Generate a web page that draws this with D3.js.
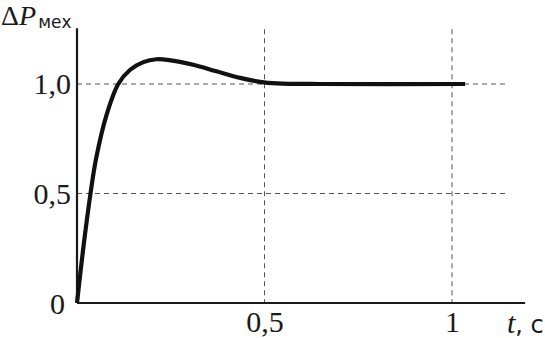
<!DOCTYPE html>
<html>
<head>
<meta charset="utf-8">
<script src="https://cdn.jsdelivr.net/npm/d3@7"></script>
<style>
  body { margin: 0; background: #fff; }
  text { fill: #1a1a1a; }
</style>
</head>
<body>
<div id="chart"></div>
<script>
// transient response of mechanical power after a step
const timeValues = [0, 0.016, 0.036, 0.051, 0.079, 0.11, 0.141, 0.177, 0.212, 0.25, 0.31, 0.372, 0.435, 0.488, 0.533, 0.65, 1.035];
const powerValues = [0, 0.24, 0.5, 0.66, 0.86, 1.0, 1.064, 1.10, 1.113, 1.108, 1.088, 1.058, 1.028, 1.010, 1.003, 1.0, 1.0];
const xTicks = [0.5, 1];
const xTickLabels = ["0,5", "1"];
const yTicks = [0, 0.5, 1];
const yTickLabels = ["0", "0,5", "1,0"];

const W = 545, H = 338;
const svg = d3.select("#chart").append("svg")
  .attr("width", W)
  .attr("height", H);

const x = d3.scaleLinear().domain([0, 1]).range([77, 452]);
const y = d3.scaleLinear().domain([0, 1]).range([303, 84]);

const serif = "'Liberation Serif', 'DejaVu Serif', serif";

// dashed grid
svg.selectAll(".hgrid")
  .data([0.5, 1])
  .enter()
  .append("line")
  .attr("x1", x(0))
  .attr("x2", x(1.15))
  .attr("y1", d => y(d))
  .attr("y2", d => y(d))
  .attr("stroke", "#555")
  .attr("stroke-width", 1)
  .attr("stroke-dasharray", "5,4");

svg.selectAll(".vgrid")
  .data(xTicks)
  .enter()
  .append("line")
  .attr("x1", d => x(d))
  .attr("x2", d => x(d))
  .attr("y1", y(1.25))
  .attr("y2", y(0))
  .attr("stroke", "#555")
  .attr("stroke-width", 1)
  .attr("stroke-dasharray", "5,4");

// axes lines
svg.append("line")
  .attr("x1", x(0)).attr("x2", x(0))
  .attr("y1", y(1.255)).attr("y2", y(0))
  .attr("stroke", "#1a1a1a").attr("stroke-width", 2.2);
svg.append("line")
  .attr("x1", x(0)).attr("x2", x(1.195))
  .attr("y1", y(0)).attr("y2", y(0))
  .attr("stroke", "#1a1a1a").attr("stroke-width", 2.2);

// tick labels
const yAxis = svg.append("g")
  .attr("transform", `translate(${x(0) - 6},0)`)
  .call(d3.axisLeft(y).tickValues(yTicks).tickSize(0).tickPadding(0)
    .tickFormat((d, i) => yTickLabels[i]));
yAxis.select(".domain").remove();
yAxis.selectAll("text")
  .attr("dy", "0.32em")
  .style("font-family", serif)
  .style("font-size", "30px")
  .attr("fill", "#1a1a1a");
yAxis.selectAll("text").filter(d => d === 0)
  .attr("dx", -6)
  .attr("dy", "0.36em");

const xAxis = svg.append("g")
  .attr("transform", `translate(0,${y(0)})`)
  .call(d3.axisBottom(x).tickValues(xTicks).tickSize(0).tickPadding(8)
    .tickFormat((d, i) => xTickLabels[i]));
xAxis.select(".domain").remove();
xAxis.selectAll("text")
  .style("font-family", serif)
  .style("font-size", "30px")
  .attr("fill", "#1a1a1a");

// curve
const line = d3.line()
  .x((d, i) => x(timeValues[i]))
  .y(d => y(d))
  .curve(d3.curveCatmullRom.alpha(0.5));

svg.append("path")
  .datum(powerValues)
  .attr("d", line)
  .attr("fill", "none")
  .attr("stroke", "#111")
  .attr("stroke-width", 4.2)
  .attr("stroke-linejoin", "round");

// axis titles
const yTitle = svg.append("text")
  .attr("x", 1)
  .attr("y", 25)
  .style("font-family", serif)
  .style("font-size", "28px");
yTitle.append("tspan").text("Δ");
yTitle.append("tspan").style("font-style", "italic").text("P");
yTitle.append("tspan")
  .attr("dx", 2)
  .attr("dy", 3)
  .style("font-family", "'DejaVu Sans', sans-serif")
  .style("font-size", "17px")
  .text("мех");

const xTitle = svg.append("text")
  .attr("x", 507)
  .attr("y", 333)
  .style("font-family", serif)
  .style("font-size", "30px");
xTitle.append("tspan").style("font-style", "italic").text("t");
xTitle.append("tspan").style("font-family", "'DejaVu Sans', sans-serif").style("font-size", "24px").text(", с");
</script>
</body>
</html>
